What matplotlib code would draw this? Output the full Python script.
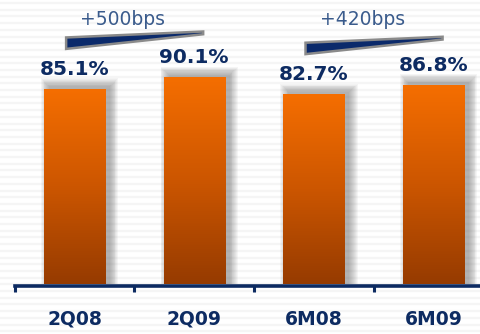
import numpy as np
import matplotlib
matplotlib.use('Agg')
import matplotlib.pyplot as plt
from matplotlib.colors import LinearSegmentedColormap
from matplotlib.patches import Rectangle, Polygon

# data
categories = ['2Q08', '2Q09', '6M08', '6M09']
ratios = [85.1, 90.1, 82.7, 86.8]
changes = ['+500bps', '+420bps']
change_pairs = [(0, 1), (2, 3)]
wedge_base = [102.8, 100.5]   # lower-left corner of each wedge (data units)

NAVY = '#0d2b62'
STEEL = '#3a5b8c'

W, H, DPI = 481, 334, 100
fig = plt.figure(figsize=(W / DPI, H / DPI), dpi=DPI)
fig.patch.set_facecolor('white')

# faint striped background
bg = fig.add_axes([0, 0, 1, 1], zorder=0)
bg.set_xlim(0, W)
bg.set_ylim(H, 0)
bg.axis('off')
for yy in np.arange(3, H, 6.7):
    bg.axhline(yy, color='#f5f5f5', lw=1.6)

ax = fig.add_axes([14.65 / W, 50 / H, 478.8 / W, 284 / H], zorder=1)
ax.patch.set_alpha(0)
ymax = 284 / 2.287
ax.set_xlim(-0.5, 3.5)
ax.set_ylim(0, ymax)

px_x = 4 / 478.8          # one pixel in x data units
px_y = ymax / 284          # one pixel in y data units
bar_w = 0.51

cmap = LinearSegmentedColormap.from_list('bar', ['#963b00', '#cc5600', '#f56e00'])
grad = np.linspace(0, 1, 256).reshape(-1, 1)

for i, v in enumerate(ratios):
    x0 = i - bar_w / 2
    # soft drop shadow
    for k in range(10):
        s = k * 0.9
        ax.add_patch(Rectangle((x0 + (5 - s) * px_x, 0),
                               bar_w + 2 * s * px_x, v + (3 + s) * px_y,
                               facecolor='#4a4a4a', edgecolor='none',
                               alpha=0.05, zorder=2))
    ax.imshow(grad, extent=(x0, x0 + bar_w, 0, v), origin='lower',
              cmap=cmap, aspect='auto', zorder=3)
    ax.annotate(f'{v:.1f}%', (i, v), xytext=(0, 10.5), textcoords='offset points',
                ha='center', va='baseline', fontsize=14.5, fontweight='bold',
                color=NAVY, zorder=5)

# growth wedges between periods
for (a, b), txt, y0 in zip(change_pairs, changes, wedge_base):
    xl, xr = a - 0.07, b + 0.075
    pts = [(xl, y0 + 5.0), (xr, y0 + 7.6), (xr, y0 + 6.4), (xl, y0)]
    ax.add_patch(Polygon(pts, closed=True, facecolor='#0b2a6b',
                         edgecolor='#8a8a8a', lw=1.8, joinstyle='miter',
                         zorder=4))
    ax.text((a + b) / 2 - 0.095, 113.2, txt, ha='center', va='baseline',
            fontsize=13.5, color=STEEL, zorder=5)

ax.set_xlim(-0.5, 3.5)
ax.set_ylim(0, ymax)

for side in ['top', 'right', 'left']:
    ax.spines[side].set_visible(False)
ax.spines['bottom'].set_color(NAVY)
ax.spines['bottom'].set_linewidth(2.6)
ax.spines['bottom'].set_position(('outward', 1.5))
ax.set_yticks([])

ax.set_xticks([-0.5, 0.5, 1.5, 2.5])
ax.set_xticklabels([])
ax.tick_params(axis='x', which='major', direction='out', length=4.5,
               width=2.2, color=NAVY)
ax.set_xticks(range(len(categories)), minor=True)
ax.set_xticklabels(categories, minor=True, fontsize=13.5, fontweight='bold',
                   color=NAVY)
ax.tick_params(axis='x', which='minor', length=0, pad=17)

fig.savefig('out.png', dpi=DPI)
